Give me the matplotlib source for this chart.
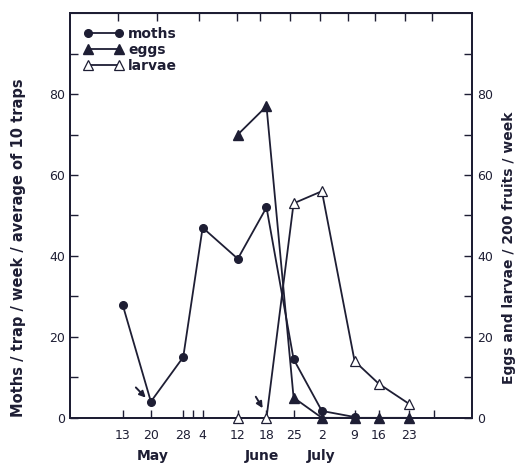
import matplotlib
matplotlib.use("Agg")
import matplotlib.pyplot as plt
from matplotlib.lines import Line2D

# dates as day-of-year positions, as drawn on the original axis
dias = [133, 140, 148, 152.8, 161.5, 168.6, 175.3, 182.3, 190.4, 196.4, 203.8]
rotulos = ["13", "20", "28", "4", "12", "18", "25", "2", "9", "16", "23"]

mariposas = [28, 4, 15, 47, 39.3, 52, 14.5, 1.7, 0.2]          # dias[0:9]
ovos = [70, 77, 5, 0, 0, 0, 0]                                 # dias[4:11]
larvas = [0, 0, 53, 56, 14, 8.4, 3.5]                          # dias[4:11]

meses = ["May", "June", "July"]
meses_x = [140.5, 167.5, 182]

ticks_topo = [131.8, 141.4, 152, 161.2, 166.9, 174.3, 181.8, 188.7, 195.4, 202.8, 209.5]
ticks_extra = [150.5, 210]

cor = "#1e1e34"

fig = plt.figure(figsize=(5.15, 4.7), dpi=100)
ax = fig.add_axes([0.136, 0.111, 0.781, 0.861])
ax2 = ax.twinx()

ax.plot(dias[:9], mariposas, "-o", color=cor, lw=1.3, ms=5.5, clip_on=False, zorder=5)
ax2.plot(dias[4:], ovos, "-^", color=cor, lw=1.3, ms=6.5, clip_on=False, zorder=5)
# larvae: no line between the two zero points
ax2.plot(dias[5:], larvas[1:], "-^", color=cor, lw=1.3, ms=7.5,
         markerfacecolor="white", markeredgewidth=0.9, clip_on=False, zorder=4)
ax2.plot(dias[4:5], larvas[:1], "^", color=cor, ms=7.5,
         markerfacecolor="white", markeredgewidth=0.9, clip_on=False, zorder=4)

for a in (ax, ax2):
    a.set_xlim(120, 219.5)
    a.set_ylim(0, 100)
    a.set_yticks([0, 20, 40, 60, 80])
    a.set_yticks([10, 30, 50, 70, 90], minor=True)
    a.tick_params(axis="y", which="both", direction="in", labelsize=9,
                  colors=cor, length=6, width=1)
    for s in a.spines.values():
        s.set_linewidth(1.4)
        s.set_color(cor)

ax.set_xticks(dias)
ax.set_xticklabels(rotulos)
ax.set_xticks(ticks_extra, minor=True)
ax.tick_params(axis="x", which="both", direction="in", length=6, width=1,
               labelsize=9, colors=cor, pad=8)

topo = ax.secondary_xaxis("top")
topo.set_xticks(ticks_topo)
topo.tick_params(direction="in", length=6, width=1, labeltop=False, colors=cor)

for m, x in zip(meses, meses_x):
    ax.text(x, -9.5, m, ha="center", va="center", fontsize=10,
            fontweight="bold", color=cor)

# arrows
ax.annotate("", xy=(139.2, 4.5), xytext=(135.8, 8),
            arrowprops=dict(arrowstyle="-|>", color=cor, lw=1.4, mutation_scale=9))
ax.annotate("", xy=(168, 1.8), xytext=(165.6, 5.8),
            arrowprops=dict(arrowstyle="-|>", color=cor, lw=1.4, mutation_scale=9))

ax.set_ylabel("Moths / trap / week / average of 10 traps", fontsize=10.5,
              fontweight="bold", color=cor)
ax.yaxis.set_label_coords(-0.11, 0.42)
ax2.set_ylabel("Eggs and larvae / 200 fruits / week", fontsize=10,
               fontweight="bold", color=cor, rotation=90)
ax2.yaxis.set_label_coords(1.075, 0.42)

h = [Line2D([], [], color=cor, lw=1.3, marker="o", ms=5.5),
     Line2D([], [], color=cor, lw=1.3, marker="^", ms=6.5),
     Line2D([], [], color=cor, lw=1.3, marker="^", ms=7.5,
            markerfacecolor="white", markeredgewidth=0.9)]
leg = ax.legend(h, ["moths", "eggs", "larvae"], loc="upper left",
                frameon=False, fontsize=10, handlelength=2.8, numpoints=2,
                labelspacing=0.15, borderaxespad=0.6, handletextpad=0.4)
for t in leg.get_texts():
    t.set_fontweight("bold")
    t.set_color(cor)

fig.savefig("out.png", dpi=100)
